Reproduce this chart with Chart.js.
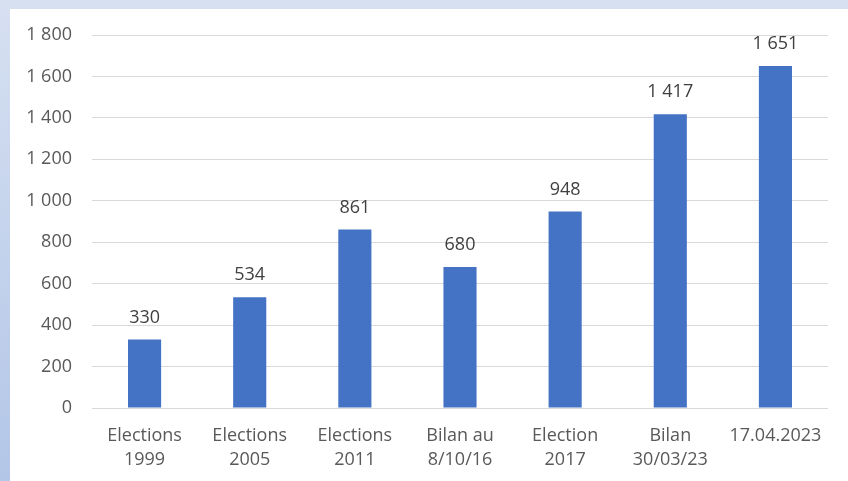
<!DOCTYPE html>
<html>
<head>
<meta charset="utf-8">
<script src="https://cdn.jsdelivr.net/npm/chart.js@4/dist/chart.umd.min.js"></script>
<style>
  html, body { margin: 0; padding: 0; background: #ffffff; }
  #wrap { position: relative; width: 848px; height: 481px; }
  canvas { display: block; }
</style>
</head>
<body>
<div id="wrap"><canvas id="c" width="848" height="481"></canvas></div>
<script>
const categories = [
  ['Elections', '1999'],
  ['Elections', '2005'],
  ['Elections', '2011'],
  ['Bilan au', '8/10/16'],
  ['Election', '2017'],
  ['Bilan', '30/03/23'],
  ['17.04.2023']
];
const values = [330, 534, 861, 680, 948, 1417, 1651];
const yTicks = [0, 200, 400, 600, 800, 1000, 1200, 1400, 1600, 1800];

const FONT = '"Open Sans", "Noto Sans", sans-serif';

// Thousands separated by a space, as in "1 800"
function fmt(v) {
  return String(v).replace(/\B(?=(\d{3})+(?!\d))/g, ' ');
}

// Light blue frame along the top and left edges
const framePlugin = {
  id: 'frame',
  beforeDraw(chart) {
    const ctx = chart.ctx;
    ctx.save();
    const g = ctx.createLinearGradient(0, 0, 0, chart.height);
    g.addColorStop(0, '#d6e0f1');
    g.addColorStop(1, '#b3c6e7');
    ctx.fillStyle = g;
    ctx.fillRect(0, 0, 10, chart.height);
    ctx.fillStyle = '#d6e0f1';
    ctx.fillRect(0, 0, chart.width, 9);
    ctx.restore();
  }
};

// Value labels above each bar
const valueLabels = {
  id: 'valueLabels',
  afterDatasetsDraw(chart) {
    const ctx = chart.ctx;
    const meta = chart.getDatasetMeta(0);
    ctx.save();
    ctx.font = '18px ' + FONT;
    ctx.fillStyle = '#404040';
    ctx.textAlign = 'center';
    ctx.textBaseline = 'bottom';
    meta.data.forEach((bar, i) => {
      ctx.fillText(fmt(values[i]), bar.x, bar.y - 13);
    });
    ctx.restore();
  }
};

new Chart(document.getElementById('c'), {
  type: 'bar',
  data: {
    labels: categories,
    datasets: [{
      data: values,
      backgroundColor: '#4472c4',
      borderWidth: 0,
      categoryPercentage: 1,
      barPercentage: 0.315
    }]
  },
  options: {
    responsive: false,
    animation: false,
    events: [],
    layout: { padding: { left: 10, right: 20, top: 35, bottom: 0 } },
    plugins: {
      legend: { display: false },
      tooltip: { enabled: false }
    },
    scales: {
      x: {
        grid: { display: false, drawTicks: false },
        border: { display: false },
        ticks: {
          color: '#595959',
          font: { family: FONT, size: 18, lineHeight: 1.33 },
          padding: 16,
          maxRotation: 0,
          autoSkip: false
        },
        afterFit(scale) { scale.height = 73; }
      },
      y: {
        min: 0,
        max: 1800,
        afterBuildTicks(scale) { scale.ticks = yTicks.map(v => ({ value: v })); },
        grid: { color: '#d9d9d9', lineWidth: 1, drawTicks: false },
        border: { display: false },
        ticks: {
          color: '#595959',
          font: { family: FONT, size: 18 },
          padding: 20,
          callback: v => fmt(v)
        },
        afterFit(scale) { scale.width = 82; }
      }
    }
  },
  plugins: [framePlugin, valueLabels]
});
</script>
</body>
</html>
